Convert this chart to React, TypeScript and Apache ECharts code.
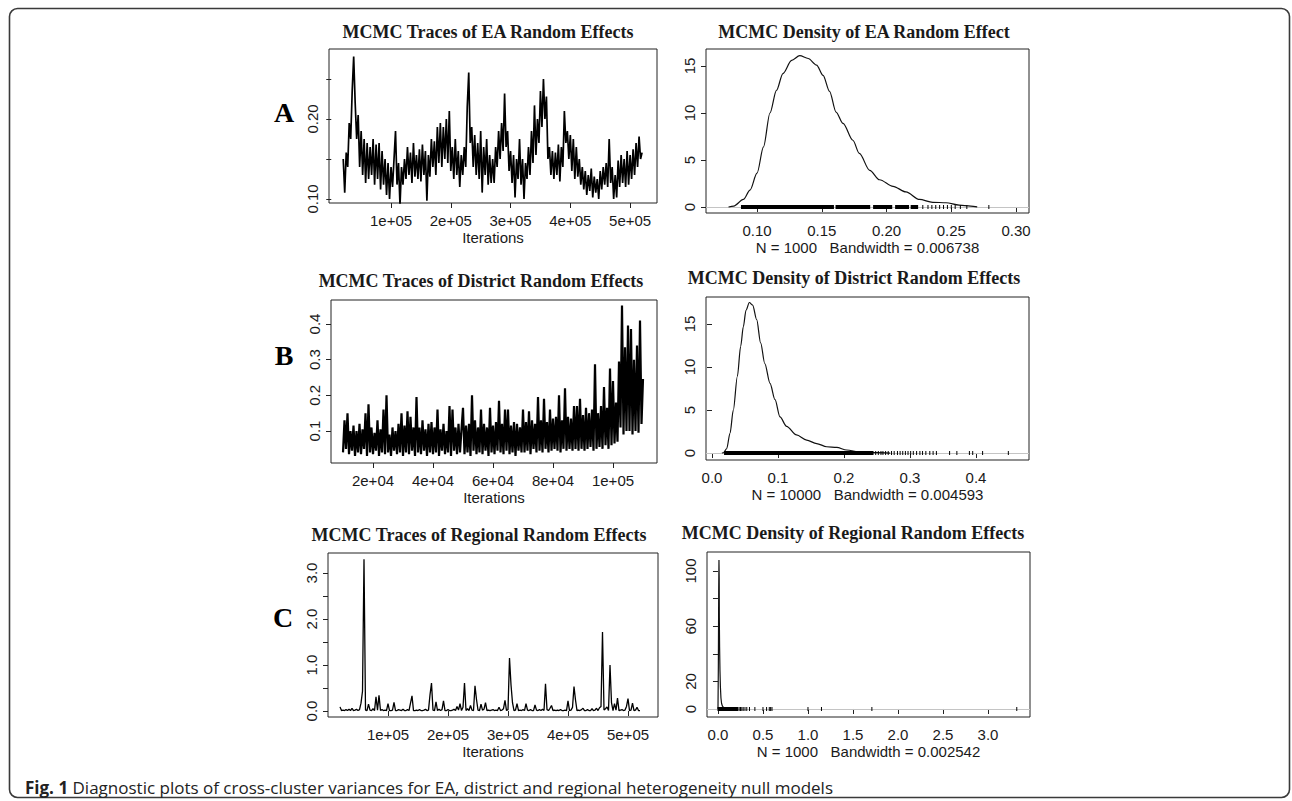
import React, { useEffect, useRef } from "react";
import * as echarts from "echarts";

// ---------- Trace data ----------
const traceAStart = 20000;
const traceAStep = 2500;
const traceA = [
  0.150, 0.108, 0.158, 0.140, 0.195, 0.175, 0.235, 0.278, 0.220, 0.175,
  0.205, 0.140, 0.185, 0.130, 0.175, 0.120, 0.170, 0.125, 0.165, 0.130,
  0.175, 0.118, 0.168, 0.125, 0.170, 0.112, 0.160, 0.118, 0.150, 0.105,
  0.145, 0.100, 0.140, 0.115, 0.150, 0.185, 0.118, 0.145, 0.092, 0.140,
  0.118, 0.150, 0.125, 0.165, 0.130, 0.158, 0.120, 0.170, 0.128, 0.155,
  0.125, 0.162, 0.122, 0.168, 0.130, 0.160, 0.098, 0.155, 0.128, 0.175,
  0.140, 0.172, 0.130, 0.190, 0.145, 0.195, 0.140, 0.190, 0.150, 0.200,
  0.145, 0.210, 0.135, 0.165, 0.125, 0.175, 0.130, 0.160, 0.115, 0.155,
  0.130, 0.165, 0.140, 0.215, 0.258, 0.170, 0.190, 0.140, 0.180, 0.130,
  0.170, 0.125, 0.185, 0.108, 0.165, 0.130, 0.175, 0.118, 0.155, 0.120,
  0.150, 0.120, 0.165, 0.140, 0.185, 0.150, 0.195, 0.160, 0.232, 0.165,
  0.185, 0.135, 0.160, 0.120, 0.155, 0.102, 0.150, 0.125, 0.175, 0.118,
  0.150, 0.100, 0.145, 0.125, 0.165, 0.130, 0.185, 0.145, 0.217, 0.155,
  0.200, 0.170, 0.235, 0.190, 0.250, 0.200, 0.228, 0.150, 0.165, 0.130,
  0.160, 0.125, 0.158, 0.130, 0.168, 0.122, 0.165, 0.140, 0.210, 0.170,
  0.185, 0.150, 0.180, 0.135, 0.175, 0.125, 0.165, 0.128, 0.150, 0.118,
  0.140, 0.112, 0.135, 0.105, 0.130, 0.110, 0.138, 0.102, 0.128, 0.108,
  0.125, 0.100, 0.135, 0.112, 0.140, 0.118, 0.145, 0.115, 0.175, 0.120,
  0.140, 0.100, 0.130, 0.102, 0.148, 0.115, 0.155, 0.120, 0.150, 0.115,
  0.160, 0.118, 0.155, 0.125, 0.162, 0.130, 0.170, 0.140, 0.178, 0.150, 0.158,
];

const traceBStart = 10000;
const traceBStep = 500;
const traceB = [
  0.040, 0.130, 0.050, 0.150, 0.035, 0.100, 0.045, 0.115, 0.030, 0.100,
  0.040, 0.120, 0.035, 0.105, 0.050, 0.150, 0.030, 0.175, 0.040, 0.110,
  0.035, 0.095, 0.045, 0.130, 0.030, 0.105, 0.040, 0.160, 0.035, 0.200,
  0.040, 0.090, 0.030, 0.110, 0.045, 0.100, 0.035, 0.120, 0.040, 0.150,
  0.030, 0.115, 0.040, 0.155, 0.035, 0.140, 0.045, 0.110, 0.030, 0.195,
  0.040, 0.110, 0.035, 0.130, 0.045, 0.105, 0.030, 0.120, 0.040, 0.125,
  0.035, 0.110, 0.040, 0.160, 0.030, 0.105, 0.045, 0.120, 0.035, 0.100,
  0.040, 0.170, 0.030, 0.160, 0.045, 0.110, 0.035, 0.120, 0.040, 0.105,
  0.165, 0.035, 0.115, 0.040, 0.120, 0.030, 0.200, 0.045, 0.130, 0.035,
  0.110, 0.040, 0.160, 0.035, 0.120, 0.045, 0.110, 0.030, 0.165, 0.040,
  0.115, 0.035, 0.125, 0.045, 0.185, 0.040, 0.120, 0.035, 0.160, 0.045,
  0.160, 0.035, 0.115, 0.040, 0.125, 0.030, 0.120, 0.045, 0.110, 0.040,
  0.160, 0.040, 0.125, 0.045, 0.155, 0.035, 0.130, 0.050, 0.120, 0.040,
  0.195, 0.045, 0.130, 0.040, 0.190, 0.050, 0.125, 0.040, 0.160, 0.045,
  0.135, 0.050, 0.140, 0.045, 0.200, 0.040, 0.130, 0.050, 0.220, 0.045,
  0.140, 0.050, 0.135, 0.045, 0.170, 0.050, 0.170, 0.045, 0.190, 0.050,
  0.145, 0.045, 0.165, 0.050, 0.150, 0.055, 0.160, 0.045, 0.287, 0.050,
  0.150, 0.055, 0.170, 0.050, 0.223, 0.060, 0.165, 0.050, 0.275, 0.060,
  0.240, 0.065, 0.180, 0.070, 0.295, 0.110, 0.452, 0.090, 0.335, 0.100,
  0.396, 0.100, 0.386, 0.090, 0.300, 0.100, 0.340, 0.095, 0.410, 0.120,
  0.246,
];

const traceCStart = 20000;
const traceCStep = 2500;
const traceC = [
  0.09, 0.01, 0.02, 0.01, 0.03, 0.01, 0.04, 0.01, 0.06, 0.01,
  0.02, 0.04, 0.01, 0.03, 0.17, 0.43, 3.30, 0.02, 0.01, 0.15,
  0.02, 0.01, 0.05, 0.01, 0.31, 0.02, 0.34, 0.01, 0.03, 0.01,
  0.02, 0.01, 0.16, 0.01, 0.01, 0.02, 0.19, 0.01, 0.01, 0.03,
  0.02, 0.01, 0.04, 0.01, 0.01, 0.03, 0.01, 0.17, 0.33, 0.01,
  0.01, 0.02, 0.01, 0.03, 0.01, 0.01, 0.02, 0.04, 0.01, 0.02,
  0.35, 0.61, 0.02, 0.01, 0.20, 0.01, 0.04, 0.01, 0.03, 0.22,
  0.01, 0.01, 0.03, 0.01, 0.01, 0.02, 0.04, 0.01, 0.10, 0.02,
  0.16, 0.01, 0.08, 0.61, 0.01, 0.05, 0.01, 0.12, 0.02, 0.01,
  0.55, 0.25, 0.02, 0.01, 0.15, 0.02, 0.04, 0.18, 0.01, 0.02,
  0.01, 0.02, 0.03, 0.01, 0.02, 0.01, 0.08, 0.01, 0.02, 0.05,
  0.23, 0.01, 0.03, 1.15, 0.57, 0.18, 0.01, 0.02, 0.16, 0.01,
  0.02, 0.01, 0.03, 0.01, 0.16, 0.02, 0.01, 0.03, 0.01, 0.01,
  0.13, 0.02, 0.01, 0.03, 0.01, 0.04, 0.01, 0.59, 0.03, 0.01,
  0.06, 0.12, 0.01, 0.02, 0.01, 0.02, 0.01, 0.03, 0.01, 0.01,
  0.02, 0.01, 0.22, 0.01, 0.02, 0.08, 0.53, 0.24, 0.01, 0.02,
  0.01, 0.03, 0.06, 0.01, 0.01, 0.03, 0.01, 0.01, 0.05, 0.01,
  0.02, 0.06, 0.01, 0.07, 0.10, 1.72, 0.02, 0.05, 0.09, 0.01,
  1.00, 0.18, 0.01, 0.16, 0.02, 0.28, 0.01, 0.02, 0.03, 0.01,
  0.02, 0.10, 0.27, 0.01, 0.02, 0.17, 0.01, 0.02, 0.08, 0.01,
  0.01,
];

// ---------- Density curves [value, density] ----------
const densA = [
  [0.078, 0], [0.082, 0.1], [0.0895, 0.8], [0.0946, 1.8], [0.1, 3.6], [0.105, 6.4],
  [0.11, 10.0], [0.115, 12.4], [0.12, 14.2], [0.1267, 15.6], [0.133, 16.1],
  [0.1395, 15.8], [0.146, 15.1], [0.151, 14.0], [0.156, 12.3], [0.161, 10.1],
  [0.1664, 8.9], [0.174, 7.1], [0.179, 5.7], [0.187, 3.9], [0.1946, 2.9],
  [0.205, 2.2], [0.215, 1.6], [0.2254, 0.8], [0.2356, 0.5], [0.246, 0.45],
  [0.256, 0.2], [0.265, 0.1], [0.27, 0.02],
];
const densB = [
  [0.015, 0], [0.0172, 0.03], [0.0222, 0.5], [0.0273, 2.3], [0.0323, 5.0],
  [0.0384, 8.9], [0.0434, 12.4], [0.0475, 14.7], [0.0515, 16.6], [0.0566, 17.5],
  [0.0616, 17.2], [0.0677, 15.5], [0.0737, 12.8], [0.08, 10.4], [0.0879, 8.1],
  [0.0955, 6.2], [0.103, 4.2], [0.113, 3.1], [0.128, 2.1], [0.1434, 1.5],
  [0.1586, 1.1], [0.1737, 0.73], [0.189, 0.66], [0.204, 0.35], [0.224, 0.12],
  [0.25, 0.04], [0.27, 0.0],
];
const densC = [
  [0.0, 0], [0.004, 30], [0.008, 85], [0.011, 108], [0.0135, 95], [0.015, 66],
  [0.018, 45], [0.022, 28], [0.027, 16], [0.033, 8], [0.04, 4], [0.05, 2],
  [0.065, 0.8], [0.08, 0.4], [0.1, 0.2], [0.13, 0.05], [0.16, 0],
];

// ---------- Rug marks (observations) ----------
const rugSegA = [[0.088, 0.159], [0.161, 0.187], [0.19, 0.204], [0.207, 0.217], [0.219, 0.224]];
const rugPtsA = [0.228, 0.232, 0.235, 0.238, 0.241, 0.244, 0.247, 0.25, 0.253, 0.257, 0.262, 0.279];
const rugSegB = [[0.019, 0.244]];
const rugPtsB = [0.248, 0.252, 0.256, 0.259, 0.263, 0.267, 0.272, 0.276, 0.281, 0.285, 0.289, 0.293,
  0.297, 0.301, 0.305, 0.31, 0.315, 0.319, 0.324, 0.33, 0.335, 0.34, 0.36, 0.371, 0.39, 0.395, 0.41, 0.449];
const rugSegC = [[0.0, 0.22]];
const rugPtsC = [0.235, 0.25, 0.265, 0.28, 0.3, 0.32, 0.35, 0.41, 0.5, 0.54, 0.57, 0.585, 0.6, 1.0, 1.15, 1.71, 3.32];

// ---------- Ticks & labels ----------
const iterTicks5 = [100000, 200000, 300000, 400000, 500000];
const iterLabels5 = ["1e+05", "2e+05", "3e+05", "4e+05", "5e+05"];
const iterTicksB = [20000, 40000, 60000, 80000, 100000];
const iterLabelsB = ["2e+04", "4e+04", "6e+04", "8e+04", "1e+05"];

const yTicksTA = [0.1, 0.15, 0.2, 0.25];
const yLabValsTA = [0.1, 0.2];
const yLabTxtTA = ["0.10", "0.20"];
const yTicksTB = [0.1, 0.2, 0.3, 0.4];
const yLabTxtTB = ["0.1", "0.2", "0.3", "0.4"];
const yTicksTC = [0, 0.5, 1, 1.5, 2, 2.5, 3];
const yLabValsTC = [0, 1, 2, 3];
const yLabTxtTC = ["0.0", "1.0", "2.0", "3.0"];

const xTicksDA = [0.1, 0.15, 0.2, 0.25, 0.3];
const xLabTxtDA = ["0.10", "0.15", "0.20", "0.25", "0.30"];
const xTicksDB = [0, 0.1, 0.2, 0.3, 0.4];
const xLabTxtDB = ["0.0", "0.1", "0.2", "0.3", "0.4"];
const xTicksDC = [0, 0.5, 1, 1.5, 2, 2.5, 3];
const xLabTxtDC = ["0.0", "0.5", "1.0", "1.5", "2.0", "2.5", "3.0"];

const yTicksD = [0, 5, 10, 15];
const yLabTxtD = ["0", "5", "10", "15"];
const yTicksDC = [0, 20, 40, 60, 80, 100];
const yLabValsDC = [0, 20, 60, 100];
const yLabTxtDC = ["0", "20", "60", "100"];

const titles = [
  "MCMC Traces of EA Random Effects",
  "MCMC Density of EA Random Effect",
  "MCMC Traces of District Random Effects",
  "MCMC Density of District Random Effects",
  "MCMC Traces of Regional Random Effects",
  "MCMC Density of Regional Random Effects",
];
const subTitles = [
  "N = 1000   Bandwidth = 0.006738",
  "N = 10000   Bandwidth = 0.004593",
  "N = 1000   Bandwidth = 0.002542",
];
const panelLetters = ["A", "B", "C"];
const captionBold = "Fig. 1";
const captionText =
  " Diagnostic plots of cross-cluster variances for EA, district and regional heterogeneity null models";

const SANS = "'Liberation Sans', Arial, Helvetica, sans-serif";
const SERIF = "'Liberation Serif', 'Times New Roman', Times, serif";
const INK = "#1a1a1a";

const fmt = (vals: number[], texts: string[]) => (v: number) => {
  let best = 0;
  let d = Infinity;
  vals.forEach((x, i) => {
    const dd = Math.abs(x - v);
    if (dd < d) {
      d = dd;
      best = i;
    }
  });
  return texts[best];
};

function xAxisDef(gridIndex: number, min: number, max: number, ticks: number[], labVals: number[], labTxt: string[], name: string) {
  return {
    type: "value",
    gridIndex,
    min,
    max,
    axisLine: { show: false },
    splitLine: { show: false },
    axisTick: { show: true, length: 5, customValues: ticks, lineStyle: { color: "#222", width: 1 } },
    axisLabel: {
      show: true,
      customValues: labVals,
      formatter: fmt(labVals, labTxt),
      fontFamily: SANS,
      fontSize: 15,
      color: INK,
      margin: 10,
    },
    name,
    nameLocation: "middle",
    nameGap: 27,
    nameTextStyle: { fontFamily: SANS, fontSize: 15, color: INK },
  };
}

function yAxisDef(gridIndex: number, min: number, max: number, ticks: number[], labVals: number[], labTxt: string[]) {
  return {
    type: "value",
    gridIndex,
    min,
    max,
    axisLine: { show: false },
    splitLine: { show: false },
    axisTick: { show: true, length: 5, customValues: ticks, lineStyle: { color: "#222", width: 1 } },
    axisLabel: {
      show: true,
      rotate: 90,
      customValues: labVals,
      formatter: fmt(labVals, labTxt),
      fontFamily: SANS,
      fontSize: 15,
      color: INK,
      margin: 9,
    },
  };
}

const toSeries = (start: number, step: number, vals: number[]) => vals.map((v, i) => [start + i * step, v]);

function rugSeries(idx: number, segs: number[][], pts: number[]) {
  const data = segs.map((s) => [s[0], 0, s[1]]).concat(pts.map((p) => [p, 0, p]));
  return {
    type: "custom",
    xAxisIndex: idx,
    yAxisIndex: idx,
    silent: true,
    z: 5,
    data,
    renderItem: (_p: any, api: any) => {
      const a = api.coord([api.value(0), 0]);
      const b = api.coord([api.value(2), 0]);
      return {
        type: "rect",
        shape: { x: a[0] - 0.5, y: a[1] - 2, width: Math.max(1, b[0] - a[0] + 1), height: 4 },
        style: { fill: "#000" },
      };
    },
  };
}

function densSeries(idx: number, data: number[][], smooth: boolean) {
  return {
    type: "line",
    xAxisIndex: idx,
    yAxisIndex: idx,
    data,
    showSymbol: false,
    smooth: smooth ? 0.3 : false,
    smoothMonotone: "x",
    lineStyle: { color: "#111", width: 1.2 },
    z: 3,
    markLine: {
      silent: true,
      symbol: "none",
      label: { show: false },
      lineStyle: { color: "#c4c4c4", width: 1, type: "solid" },
      data: [{ yAxis: 0 }],
      z: 1,
    },
  };
}

function traceSeries(idx: number, data: number[][], width: number) {
  return {
    type: "line",
    xAxisIndex: idx,
    yAxisIndex: idx,
    data,
    showSymbol: false,
    lineStyle: { color: "#000", width },
    z: 3,
  };
}

export default function App() {
  const ref = useRef<HTMLDivElement>(null);
  useEffect(() => {
    if (!ref.current) return;
    const chart = echarts.init(ref.current, undefined, { renderer: "svg" });
    const grid = (left: number, top: number, width: number, height: number) => ({
      left,
      top,
      width,
      height,
      show: true,
      borderColor: "#222",
      borderWidth: 1,
      backgroundColor: "transparent",
      containLabel: false,
    });
    const titlePos = [
      [488, 32],
      [864, 32],
      [481, 281],
      [854, 278],
      [479, 535],
      [853, 533],
    ];
    const letterPos = [
      [284, 112],
      [284, 355],
      [283, 617],
    ];
    const option: any = {
      animation: false,
      backgroundColor: "#fff",
      grid: [
        grid(329, 49, 328, 154),
        grid(706, 49, 323, 164),
        grid(331, 300, 326, 163),
        grid(706, 297, 323, 163),
        grid(328, 553, 330, 164),
        grid(707, 552, 323, 165),
      ],
      xAxis: [
        xAxisDef(0, -3800, 545000, iterTicks5, iterTicks5, iterLabels5, "Iterations"),
        xAxisDef(1, 0.0606, 0.31, xTicksDA, xTicksDA, xLabTxtDA, subTitles[0]),
        xAxisDef(2, 6000, 114667, iterTicksB, iterTicksB, iterLabelsB, "Iterations"),
        xAxisDef(3, -0.0091, 0.4803, xTicksDB, xTicksDB, xLabTxtDB, subTitles[1]),
        xAxisDef(4, 0, 550000, iterTicks5, iterTicks5, iterLabels5, "Iterations"),
        xAxisDef(5, -0.122, 3.467, xTicksDC, xTicksDC, xLabTxtDC, subTitles[2]),
      ],
      yAxis: [
        yAxisDef(0, 0.095, 0.2875, yTicksTA, yLabValsTA, yLabTxtTA),
        yAxisDef(1, -0.64, 16.81, yTicksD, yTicksD, yLabTxtD),
        yAxisDef(2, 0.0103, 0.4673, yTicksTB, yTicksTB, yLabTxtTB),
        yAxisDef(3, -0.81, 18.14, yTicksD, yTicksD, yLabTxtD),
        yAxisDef(4, -0.13, 3.435, yTicksTC, yLabValsTC, yLabTxtTC),
        yAxisDef(5, -5.8, 113.8, yTicksDC, yLabValsDC, yLabTxtDC),
      ],
      series: [
        traceSeries(0, toSeries(traceAStart, traceAStep, traceA), 1.7),
        densSeries(1, densA, true),
        rugSeries(1, rugSegA, rugPtsA),
        traceSeries(2, toSeries(traceBStart, traceBStep, traceB), 2.2),
        densSeries(3, densB, true),
        rugSeries(3, rugSegB, rugPtsB),
        traceSeries(4, toSeries(traceCStart, traceCStep, traceC), 1.3),
        densSeries(5, densC, false),
        rugSeries(5, rugSegC, rugPtsC),
      ],
      graphic: [
        {
          type: "rect",
          shape: { x: 9.5, y: 8.5, width: 1280, height: 789, r: 8 },
          style: { fill: "none", stroke: "#3a3a3a", lineWidth: 1.6 },
          silent: true,
        },
        ...titles.map((t, i) => ({
          type: "text",
          x: titlePos[i][0],
          y: titlePos[i][1],
          style: {
            text: t,
            font: `bold 18px ${SERIF}`,
            fill: INK,
            align: "center",
            verticalAlign: "middle",
            textAlign: "center",
            textVerticalAlign: "middle",
          },
          silent: true,
        })),
        ...panelLetters.map((t, i) => ({
          type: "text",
          x: letterPos[i][0],
          y: letterPos[i][1],
          style: {
            text: t,
            font: `bold 28px ${SERIF}`,
            fill: "#000",
            align: "center",
            verticalAlign: "middle",
            textAlign: "center",
            textVerticalAlign: "middle",
          },
          silent: true,
        })),
        {
          type: "text",
          x: 25,
          y: 787,
          style: {
            text: `{b|${captionBold}}{r|${captionText}}`,
            rich: {
              b: { fontFamily: "'Open Sans', 'Noto Sans', sans-serif", fontSize: 17, fontWeight: "bold", fill: "#222", color: "#222" },
              r: { fontFamily: "'Open Sans', 'Noto Sans', sans-serif", fontSize: 17, fill: "#222", color: "#222" },
            },
            align: "left",
            verticalAlign: "middle",
            textAlign: "left",
            textVerticalAlign: "middle",
          },
          silent: true,
        },
      ],
    };
    chart.setOption(option);
    return () => chart.dispose();
  }, []);
  return (
    <div
      ref={ref}
      style={{ position: "absolute", left: 0, top: 0, width: 1292, height: 801, background: "#fff" }}
    />
  );
}
